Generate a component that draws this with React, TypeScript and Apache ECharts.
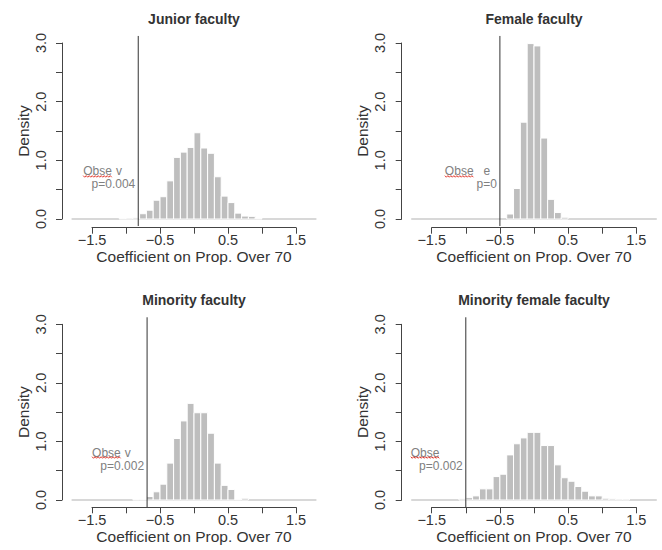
import React, { useEffect, useRef } from "react";
import * as echarts from "echarts";

const panelTitles = ["Junior faculty", "Female faculty", "Minority faculty", "Minority female faculty"];
const xAxisTitle = "Coefficient on Prop. Over 70";
const yAxisTitle = "Density";
const xLabelValues = [-1.5, -0.5, 0.5, 1.5];
const yLabelValues = [0, 1, 2, 3];
const binWidth = 0.1;

const juniorBins = [-1.1, -1.0, -0.9, -0.8, -0.7, -0.6, -0.5, -0.4, -0.3, -0.2, -0.1, 0.0, 0.1, 0.2, 0.3, 0.4, 0.5, 0.6, 0.7, 0.8, 0.9];
const juniorDensity = [0.01, 0.015, 0.02, 0.09, 0.15, 0.32, 0.38, 0.65, 1.05, 1.14, 1.22, 1.47, 1.21, 1.12, 0.72, 0.39, 0.28, 0.10, 0.05, 0.045, 0.01];

const femaleBins = [-0.4, -0.3, -0.2, -0.1, 0.0, 0.1, 0.2, 0.3, 0.4];
const femaleDensity = [0.085, 0.52, 1.65, 2.99, 2.95, 1.38, 0.335, 0.11, 0.03];

const minorityBins = [-0.9, -0.8, -0.7, -0.6, -0.5, -0.4, -0.3, -0.2, -0.1, 0.0, 0.1, 0.2, 0.3, 0.4, 0.5, 0.6, 0.7];
const minorityDensity = [0.01, 0.01, 0.06, 0.14, 0.27, 0.63, 1.05, 1.35, 1.65, 1.49, 1.49, 1.14, 0.63, 0.25, 0.18, 0.01, 0.03];

const minFemaleBins = [-1.1, -1.0, -0.9, -0.8, -0.7, -0.6, -0.5, -0.4, -0.3, -0.2, -0.1, 0.0, 0.1, 0.2, 0.3, 0.4, 0.5, 0.6, 0.7, 0.8, 0.9, 1.0, 1.1, 1.2, 1.3];
const minFemaleDensity = [0.02, 0.04, 0.07, 0.19, 0.19, 0.40, 0.44, 0.77, 0.96, 1.06, 1.155, 1.155, 0.93, 0.93, 0.60, 0.38, 0.32, 0.23, 0.15, 0.07, 0.07, 0.03, 0.02, 0.015, 0.015];

const panelBins = [juniorBins, femaleBins, minorityBins, minFemaleBins];
const panelDensity = [juniorDensity, femaleDensity, minorityDensity, minFemaleDensity];

const observedValues = [-0.82, -0.5, -0.69, -1.0];
const pValueLabels = ["p=0.004", "p=0", "p=0.002", "p=0.002"];
const observedWord = "Observed";
// visible fragments of the (partly erased) word: [start char index, text]
const observedFragments: [number, string][][] = [
  [[0, "Obse"], [5, "v"]],
  [[0, "Obse"], [6, "e"]],
  [[0, "Obse"], [5, "v"]],
  [[0, "Obse"]],
];
const annotationY = 0.7;
const baselineRange = [-1.8, 1.8];
const plotYRange = [-0.12, 3.12];

const panelLayout = [
  { left: 92, top: 43, width: 204, height: 176, xOffset: 8.7 },
  { left: 431.7, top: 43, width: 204.6, height: 176, xOffset: 8.7 },
  { left: 92, top: 324.3, width: 204, height: 175.7, xOffset: 7.3 },
  { left: 431.7, top: 324.3, width: 204.6, height: 175.7, xOffset: 7.3 },
];

const FONT = "'Liberation Sans', Arial, Helvetica, sans-serif";
const AXIS_COLOR = "#444";
const TEXT_COLOR = "#333";
const BAR_COLOR = "#bebebe";
const NOTE_COLOR = "#808080";

function fmtNum(v: number) {
  const s = Math.abs(v).toFixed(1);
  return v < 0 ? "\u2212" + s : s;
}

export default function App() {
  const ref = useRef<HTMLDivElement>(null);
  useEffect(() => {
    document.body.style.margin = "0";
    if (!ref.current) return;
    const chart = echarts.init(ref.current, null, { renderer: "svg" });

    const grids = panelLayout.map((p) => ({ left: p.left, top: p.top, width: p.width, height: p.height }));
    const xAxes = panelLayout.map((p, i) => ({
      type: "value",
      gridIndex: i,
      min: -1.5,
      max: 1.5,
      interval: 0.5,
      offset: p.xOffset,
      splitLine: { show: false },
      axisLine: { show: true, onZero: false, lineStyle: { color: AXIS_COLOR, width: 1 } },
      axisTick: { show: true, length: 6, lineStyle: { color: AXIS_COLOR } },
      axisLabel: {
        show: true,
        margin: 5,
        fontSize: 14.5,
        fontFamily: FONT,
        color: TEXT_COLOR,
        showMinLabel: true,
        showMaxLabel: true,
        formatter: (v: number) => (xLabelValues.some((l) => Math.abs(l - v) < 1e-9) ? fmtNum(v) : ""),
      },
      name: xAxisTitle,
      nameLocation: "middle",
      nameGap: 20,
      nameTextStyle: { fontSize: 15.5, fontFamily: FONT, color: TEXT_COLOR },
    }));
    const yAxes = panelLayout.map((p, i) => ({
      type: "value",
      gridIndex: i,
      min: 0,
      max: 3,
      interval: 0.5,
      offset: 30,
      splitLine: { show: false },
      axisLine: { show: true, onZero: false, lineStyle: { color: AXIS_COLOR, width: 1 } },
      axisTick: { show: true, length: 6, lineStyle: { color: AXIS_COLOR } },
      axisLabel: {
        show: true,
        rotate: 90,
        margin: 14,
        fontSize: 14.5,
        fontFamily: FONT,
        color: TEXT_COLOR,
        showMinLabel: true,
        showMaxLabel: true,
        formatter: (v: number) => (yLabelValues.some((l) => Math.abs(l - v) < 1e-9) ? v.toFixed(1) : ""),
      },
      name: yAxisTitle,
      nameLocation: "middle",
      nameGap: 31,
      nameRotate: 90,
      nameTextStyle: { fontSize: 15.5, fontFamily: FONT, color: TEXT_COLOR },
    }));

    const series: any[] = [];
    panelLayout.forEach((_, i) => {
      // light baseline across the plot region
      series.push({
        type: "custom",
        xAxisIndex: i,
        yAxisIndex: i,
        z: 1,
        silent: true,
        clip: false,
        data: [[baselineRange[0], baselineRange[1]]],
        encode: { x: [0, 1] },
        renderItem: (params: any, api: any) => {
          const a = api.coord([api.value(0), 0]);
          const b = api.coord([api.value(1), 0]);
          return {
            type: "line",
            shape: { x1: a[0], y1: a[1], x2: b[0], y2: b[1] },
            style: { stroke: "#d8d8d8", lineWidth: 2 },
          };
        },
      });
      series.push({
        type: "custom",
        xAxisIndex: i,
        yAxisIndex: i,
        z: 2,
        silent: true,
        clip: false,
        data: panelBins[i].map((b, k) => [b, panelDensity[i][k]]),
        encode: { x: 0, y: 1 },
        renderItem: (params: any, api: any) => {
          const x0 = api.value(0);
          const h = api.value(1);
          const p0 = api.coord([x0, h]);
          const p1 = api.coord([x0 + binWidth, 0]);
          return {
            type: "rect",
            shape: { x: p0[0], y: p0[1], width: p1[0] - p0[0], height: p1[1] - p0[1] },
            style: { fill: BAR_COLOR, stroke: "#ffffff", lineWidth: 1 },
          };
        },
      });
      // observed value: vertical line spanning the plot region
      series.push({
        type: "custom",
        xAxisIndex: i,
        yAxisIndex: i,
        z: 3,
        silent: true,
        clip: false,
        data: [[observedValues[i], plotYRange[0], plotYRange[1]]],
        encode: { x: 0, y: [1, 2] },
        renderItem: (params: any, api: any) => {
          const a = api.coord([api.value(0), api.value(1)]);
          const b = api.coord([api.value(0), api.value(2)]);
          return {
            type: "line",
            shape: { x1: a[0], y1: a[1], x2: b[0], y2: b[1] },
            style: { stroke: "#333", lineWidth: 1 },
          };
        },
      });
    });

    chart.setOption({
      animation: false,
      backgroundColor: "#ffffff",
      grid: grids,
      xAxis: xAxes,
      yAxis: yAxes,
      series,
    });

    // annotations derived from the chart's own scales
    const canvas = document.createElement("canvas");
    const ctx = canvas.getContext("2d")!;
    const noteSize = 12;
    ctx.font = `${noteSize}px ${FONT}`;
    const tw = (s: string) => ctx.measureText(s).width;
    const graphics: any[] = [];
    panelLayout.forEach((_, i) => {
      const top = chart.convertToPixel({ gridIndex: i } as any, [0, 3]) as number[];
      graphics.push({
        type: "text",
        x: top[0],
        y: top[1] - 24.5,
        silent: true,
        style: {
          text: panelTitles[i],
          fill: TEXT_COLOR,
          fontSize: 14,
          fontWeight: "bold",
          fontFamily: FONT,
          align: "center",
          verticalAlign: "middle",
        },
      });
      const anchor = chart.convertToPixel({ gridIndex: i } as any, [observedValues[i], annotationY]) as number[];
      const right = anchor[0] - 3;
      const y1 = anchor[1] - 6.5;
      const y2 = anchor[1] + 6.5;
      const wordLeft = right - tw(observedWord);
      observedFragments[i].forEach(([idx, frag]) => {
        const fx = wordLeft + tw(observedWord.slice(0, idx));
        graphics.push({
          type: "text",
          x: fx,
          y: y1,
          silent: true,
          style: { text: frag, fill: NOTE_COLOR, fontSize: noteSize, lineHeight: noteSize, fontFamily: FONT, align: "left", verticalAlign: "middle" },
        });
        if (idx === 0) {
          const w = tw(frag);
          const pts: number[][] = [];
          for (let k = 0, x = fx; x <= fx + w; k++, x += 1.5) pts.push([x, y1 + 5 + (k % 2 === 0 ? -0.8 : 0.8)]);
          graphics.push({
            type: "polyline",
            silent: true,
            shape: { points: pts },
            style: { stroke: "#e23a2e", lineWidth: 1, fill: "none" },
          });
        }
      });
      graphics.push({
        type: "text",
        x: right,
        y: y2,
        silent: true,
        style: { text: pValueLabels[i], fill: NOTE_COLOR, fontSize: noteSize, lineHeight: noteSize, fontFamily: FONT, align: "right", verticalAlign: "middle" },
      });
    });
    chart.setOption({ graphic: graphics });

    return () => chart.dispose();
  }, []);
  return <div ref={ref} style={{ width: 662, height: 550 }} />;
}
